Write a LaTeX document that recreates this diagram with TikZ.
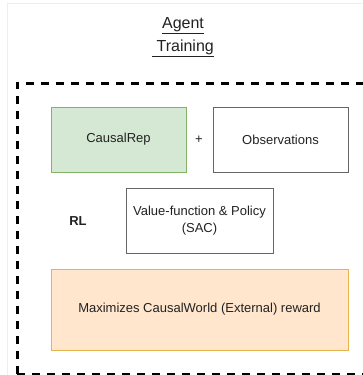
\documentclass[tikz,border=0pt]{standalone}
\usepackage{fontspec}
\setmainfont{Liberation Sans}
\definecolor{greenfill}{HTML}{D5E8D4}
\definecolor{greenline}{HTML}{82B366}
\definecolor{orangefill}{HTML}{FFE6CC}
\definecolor{orangeline}{HTML}{E6B44C}
\definecolor{boxline}{HTML}{666666}
\definecolor{frameline}{HTML}{EEEEEE}
\definecolor{txt}{HTML}{222222}
\begin{document}
\begin{tikzpicture}[x=1pt,y=-1pt,
  box/.style={draw=boxline, line width=1pt, inner sep=0pt, align=center, text=txt,
    font=\fontsize{13}{17}\selectfont},
  plain/.style={inner sep=0pt, text=txt, font=\fontsize{13}{17}\selectfont},
  titletext/.style={inner sep=0pt, anchor=base, text=txt, font=\fontsize{16}{19}\selectfont},
  dashframe/.style={draw=black, line width=3pt, dash pattern=on 8pt off 7pt}]
\useasboundingbox[fill=white] (0,0) rectangle (362,375);
% faint outer frame
\draw[frameline, line width=0.8pt] (7,375) -- (7,3) -- (362,3);
% title
\node[titletext] (t1) at (183,28) {\underline{Agent}};
\node[titletext] (t2) at (183,51) {\underline{~Training}};
% dashed container
\draw[dashframe] (17,374) -- (17,83) -- (380,83);
\draw[dashframe] (17,374) -- (380,374);
% boxes
\node[box, fill=greenfill, draw=greenline, minimum width=135pt, minimum height=65pt] (causal) at (118.5,139.5) {CausalRep};
\node[plain] (plus) at (199,140) {+};
\node[box, minimum width=135pt, minimum height=65pt] (obs) at (280.5,139.5) {Observations};
\node[plain, font=\fontsize{13}{17}\selectfont\bfseries] (rl) at (78,221) {RL};
\node[box, minimum width=147pt, minimum height=65pt] (vf) at (199.5,220.5) {Value-function \& Policy\\(SAC)};
\node[box, fill=orangefill, draw=orangeline, minimum width=297pt, minimum height=81pt] (rew) at (199.5,309.5) {Maximizes CausalWorld (External) reward};
\end{tikzpicture}
\end{document}
